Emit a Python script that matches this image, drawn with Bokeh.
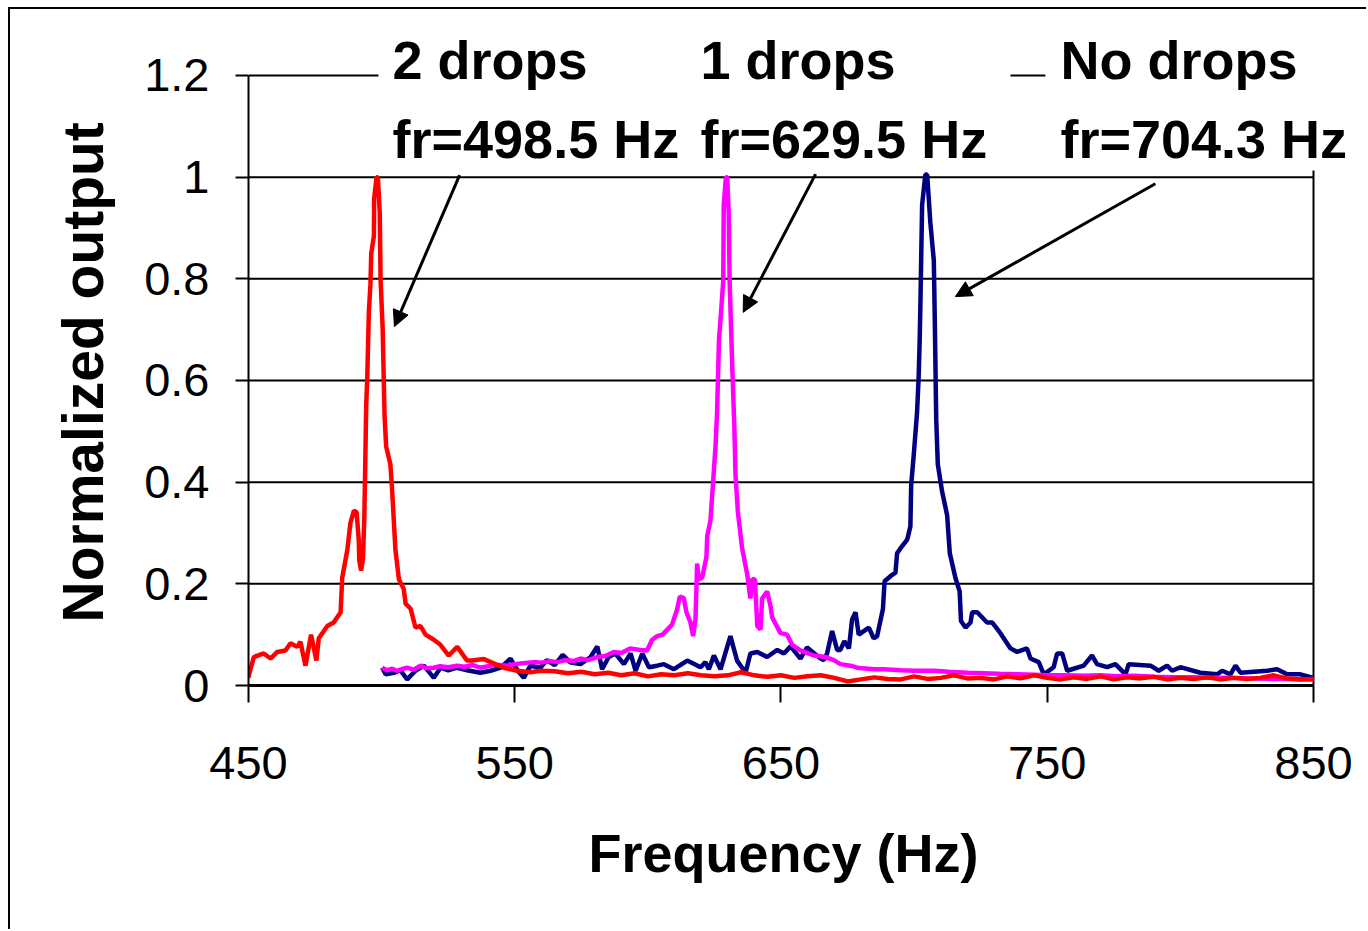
from bokeh.plotting import figure
from bokeh.models import FixedTicker, Label, Arrow, NormalHead, CustomJSTickFormatter, BoxAnnotation, Title
from bokeh.embed import file_html
from bokeh.resources import INLINE

# ---- data ----
red_f = [450.0, 450.1, 452.0, 455.7, 458.3, 460.8, 463.9, 465.8, 468.3, 469.5, 471.4, 473.5, 475.5, 476.4,
         479.6, 482.0, 484.6, 485.2, 487.1, 488.3, 489.6, 490.6, 491.4, 491.6, 492.3, 493.0, 493.5, 493.9,
         494.2, 494.6, 495.2, 495.8, 496.1, 497.1, 497.2, 498.1, 498.6, 499.3, 499.6, 500.4, 500.8, 501.1,
         501.7, 503.3, 503.9, 505.2, 506.5, 507.3, 508.3, 509.0, 510.9, 512.7, 514.6, 516.5, 519.6, 522.1,
         525.2, 528.4, 532.1, 533.9, 538.4, 545.9, 550.9, 555.9, 559.6, 565, 570, 575, 580, 585, 590, 595,
         600, 605, 610, 615, 620, 625, 630, 635, 640, 645, 650, 655, 660, 665, 670, 675, 680, 685, 690, 695,
         700, 705, 710, 715, 720, 725, 730, 735, 740, 745, 750, 755, 760, 765, 770, 775, 780, 785, 790, 795,
         800, 805, 810, 815, 820, 825, 830, 835, 840, 845, 850]
red_v = [0.015, 0.02, 0.056, 0.063, 0.053, 0.066, 0.069, 0.083, 0.076, 0.086, 0.039, 0.10, 0.049, 0.093,
         0.117, 0.124, 0.144, 0.212, 0.266, 0.32, 0.344, 0.341, 0.287, 0.246, 0.226, 0.25, 0.33, 0.45,
         0.55, 0.605, 0.734, 0.789, 0.85, 0.884, 0.958, 1.0, 1.0, 0.93, 0.80, 0.70, 0.60, 0.531,
         0.47, 0.435, 0.388, 0.266, 0.209, 0.20, 0.19, 0.161, 0.151, 0.114, 0.117, 0.10, 0.09, 0.08,
         0.059, 0.076, 0.049, 0.049, 0.052, 0.035, 0.029, 0.026, 0.029, 0.028, 0.024, 0.027, 0.022, 0.025,
         0.020, 0.024, 0.018, 0.022, 0.020, 0.024, 0.020, 0.018, 0.020, 0.026, 0.020, 0.017, 0.020, 0.015,
         0.018, 0.020, 0.015, 0.008, 0.012, 0.016, 0.013, 0.012, 0.018, 0.013, 0.015, 0.020, 0.014, 0.015,
         0.012, 0.018, 0.014, 0.020, 0.015, 0.012, 0.016, 0.013, 0.018, 0.012, 0.016, 0.014, 0.017, 0.012,
         0.015, 0.013, 0.016, 0.012, 0.015, 0.013, 0.015, 0.020, 0.014, 0.012, 0.013]

mag_f = [500.2, 502, 504, 505.8, 508, 509.6, 512, 514.6, 517, 519.6, 522, 525, 528.4, 531, 534, 537.1,
         540, 543, 547.2, 550, 553, 557.2, 560, 563, 566, 569, 572, 574.7, 577.5, 580.9, 584, 587.2, 590,
         593.5, 597, 599.7, 601.6, 603.5, 605.5, 607.3, 609.1, 611, 612, 613.5, 614.5, 616, 617, 617.9,
         618.5, 619.1, 620.4, 622, 622.3, 623.5, 624.5, 625.4, 626, 626.7, 627.5, 628.3, 628.5, 629.3,
         629.8, 630.4, 630.7, 631.7, 632.5, 632.9, 633.8, 635.4, 637.3, 638.5, 639.2, 640.2, 641.1, 642.3,
         642.9, 644.8, 646, 646.7, 649.8, 652.3, 654.2, 657.3, 662.3, 666.7, 669.8, 672.3, 676.1, 678.6,
         684.9, 688.6, 695, 700, 707.4, 713, 719.9, 726, 732, 738.7, 745, 750, 757, 763.7, 770, 776,
         782.5, 790, 797, 805, 812, 820, 828, 835, 842, 850]
mag_v = [0.035, 0.03, 0.033, 0.029, 0.033, 0.035, 0.031, 0.039, 0.034, 0.035, 0.038, 0.036, 0.039, 0.037,
         0.04, 0.035, 0.038, 0.041, 0.039, 0.042, 0.044, 0.046, 0.045, 0.048, 0.046, 0.05, 0.048, 0.053,
         0.05, 0.056, 0.058, 0.066, 0.064, 0.073, 0.07, 0.069, 0.09, 0.097, 0.1, 0.11, 0.12, 0.15, 0.175,
         0.172, 0.144, 0.124, 0.097, 0.131, 0.24, 0.209, 0.212, 0.253, 0.294, 0.324, 0.40, 0.47, 0.538,
         0.68, 0.735, 0.796, 0.945, 1.0, 1.0, 0.924, 0.796, 0.627, 0.505, 0.416, 0.342, 0.27, 0.219,
         0.171, 0.209, 0.209, 0.117, 0.11, 0.171, 0.185, 0.158, 0.134, 0.103, 0.10, 0.08, 0.069, 0.059,
         0.056, 0.05, 0.042, 0.039, 0.035, 0.032, 0.032, 0.03, 0.029, 0.029, 0.027, 0.025, 0.024, 0.023,
         0.022, 0.021, 0.02, 0.02, 0.019, 0.02, 0.018, 0.019, 0.017, 0.016, 0.016, 0.015, 0.015, 0.014,
         0.013, 0.013, 0.012]

navy_f = [500.2, 501.5, 504.6, 507, 509.6, 512.7, 515.9, 519.6, 522.1, 525, 528.4, 532.1, 537.1, 540.9,
          544.7, 548.4, 551, 553.4, 555.9, 559.7, 562, 565, 568, 571, 574.7, 578.5, 581, 582.8, 585.3,
          587.8, 591, 593.5, 595.4, 597.9, 600.4, 603.5, 606, 609.8, 614.8, 619.8, 621.6, 622.9, 624.8,
          627.3, 631, 633.5, 636.7, 638.5, 641.1, 644.8, 648.6, 651.1, 653.6, 657.3, 659.8, 664.8, 666.1,
          667.3, 669.2, 671.1, 672.3, 673.8, 675.5, 676.7, 678, 679.2, 683, 684.8, 686.1, 688.3, 688.9,
          691.1, 693, 693.6, 694.9, 697.4, 698.6, 698.9, 699.9, 701.1, 701.7, 702.1, 702.4, 703, 704.2,
          704.9, 706.1, 707.4, 707.8, 708.3, 708.9, 710.5, 712.4, 713.4, 715.5, 717.1, 717.6, 719.3, 721.2,
          721.8, 723.7, 727.4, 729.3, 732.4, 736.2, 738.7, 742.4, 743.7, 746.8, 748.7, 752.4, 753.7, 755.6,
          757.5, 759.3, 763.7, 766.8, 768.7, 772.5, 775.6, 779.4, 780.6, 788.8, 791.9, 795, 796.9, 800,
          807.5, 813.8, 815.7, 818.8, 820.7, 822.6, 832.6, 836.3, 840.1, 845.1, 850]
navy_v = [0.035, 0.022, 0.025, 0.03, 0.012, 0.029, 0.039, 0.015, 0.035, 0.03, 0.035, 0.03, 0.025, 0.029,
          0.035, 0.053, 0.03, 0.015, 0.039, 0.035, 0.05, 0.04, 0.06, 0.045, 0.042, 0.056, 0.077, 0.032, 0.056,
          0.063, 0.042, 0.063, 0.029, 0.063, 0.036, 0.039, 0.042, 0.032, 0.049, 0.036, 0.046, 0.032, 0.059,
          0.032, 0.097, 0.049, 0.025, 0.063, 0.066, 0.056, 0.07, 0.063, 0.077, 0.053, 0.075, 0.053, 0.05,
          0.063, 0.107, 0.07, 0.07, 0.087, 0.073, 0.13, 0.144, 0.10, 0.114, 0.093, 0.097, 0.151, 0.205,
          0.215, 0.222, 0.26, 0.27, 0.287, 0.313, 0.395, 0.456, 0.537, 0.606, 0.681, 0.762, 0.945, 1.005,
          1.005, 0.91, 0.836, 0.707, 0.524, 0.435, 0.382, 0.335, 0.26, 0.212, 0.185, 0.127, 0.114, 0.124,
          0.144, 0.144, 0.124, 0.124, 0.103, 0.073, 0.066, 0.073, 0.053, 0.046, 0.022, 0.036, 0.063, 0.063,
          0.029, 0.032, 0.039, 0.059, 0.042, 0.036, 0.042, 0.022, 0.042, 0.039, 0.029, 0.039, 0.029, 0.036,
          0.025, 0.022, 0.029, 0.022, 0.039, 0.025, 0.029, 0.032, 0.022, 0.022, 0.015]

x_ticks = [450, 550, 650, 750, 850]
y_ticks = [0, 0.2, 0.4, 0.6, 0.8, 1.0, 1.2]
series_names = ["2 drops", "1 drops", "No drops"]
series_freqs = ["fr=498.5 Hz", "fr=629.5 Hz", "fr=704.3 Hz"]

FONT = "Liberation Sans"

# frame is extended above/right of the axes so the annotation texts are not clipped
X_RANGE = (450, 870.66)
Y_RANGE = (0, 1.3298)

p = figure(width=1358, height=922, x_range=X_RANGE, y_range=Y_RANGE,
           output_backend="svg", toolbar_location=None,
           min_border_left=238, min_border_right=0, min_border_top=0, min_border_bottom=246)
p.margin = (7, 0, 0, 8)
p.styles = {"border-left": "2px solid black", "border-top": "2px solid black"}
p.outline_line_color = None
p.background_fill_color = "white"
p.border_fill_color = "white"
p.xgrid.visible = False
p.ygrid.visible = False

# horizontal grid lines and right border of the plot area
n = len(y_ticks)
p.segment(x0=[x_ticks[0]] * n, x1=[x_ticks[-1]] * n, y0=y_ticks, y1=y_ticks,
          line_color="black", line_width=2)
p.segment(x0=[x_ticks[-1]], x1=[x_ticks[-1]], y0=[y_ticks[0]], y1=[y_ticks[-1]],
          line_color="black", line_width=2)

p.xaxis.ticker = FixedTicker(ticks=x_ticks)
p.yaxis.ticker = FixedTicker(ticks=y_ticks)
p.xaxis.bounds = (x_ticks[0], x_ticks[-1])
p.yaxis.bounds = (y_ticks[0], y_ticks[-1])
p.yaxis.formatter = CustomJSTickFormatter(code="return String(Math.round(tick*10)/10);")

for ax in (p.xaxis[0], p.yaxis[0]):
    ax.axis_line_color = "black"
    ax.major_tick_line_color = "black"
    ax.major_tick_line_width = 2
    ax.major_tick_in = 0
    ax.minor_tick_line_color = None
    ax.major_label_text_font = FONT
    ax.major_label_text_font_size = "47px"
    ax.major_label_text_color = "black"

p.xaxis.axis_line_width = 3
p.yaxis.axis_line_width = 2
p.xaxis.major_tick_out = 17
p.yaxis.major_tick_out = 13
p.xaxis.major_label_standoff = 44
p.yaxis.major_label_standoff = 26

# axis titles (placed as titles so they can be offset from the extended frame)
p.add_layout(Title(text="Frequency (Hz)", align="left", offset=340, standoff=78,
                   text_font=FONT, text_font_size="54px", text_font_style="bold",
                   text_color="black"), "below")
p.add_layout(Title(text="Normalized output", align="left", offset=63, standoff=54,
                   text_font=FONT, text_font_size="57px", text_font_style="bold",
                   text_color="black"), "left")

p.line(navy_f, navy_v, line_color="#000080", line_width=4.5)
p.line(mag_f, mag_v, line_color="#FF00FF", line_width=4.5)
p.line(red_f, red_v, line_color="#FF0000", line_width=4.5)

# white text boxes behind the annotation blocks (they hide the top grid line)
box_left = [498.83, 614.5, 749.3]
box_right = [616.0, 736.2, 870.66]
box_top = 1.3121
box_bottom = 1.0131
for bl, br in zip(box_left, box_right):
    p.add_layout(BoxAnnotation(left=bl, right=br, bottom=box_bottom, top=box_top,
                               fill_color="white", fill_alpha=1.0, line_color=None,
                               line_alpha=0))

label_x = [498.83, 614.5, 749.7]
line1_y = 1.2295
line2_y = 1.0741
for lx, name, fr in zip(label_x, series_names, series_freqs):
    p.add_layout(Label(x=lx, y=line1_y, text=name, text_font=FONT, text_font_size="54px",
                       text_font_style="bold", text_color="black", text_baseline="alphabetic",
                       text_line_height=1.3, padding=(14, 6)))
    p.add_layout(Label(x=lx, y=line2_y, text=fr, text_font=FONT, text_font_size="54px",
                       text_font_style="bold", text_color="black", text_baseline="alphabetic",
                       text_line_height=1.0, padding=(14, 2)))

arrows = [((529.3, 1.004), (504.8, 0.706)),
          ((663.0, 1.006), (635.8, 0.734)),
          ((790.6, 0.987), (715.5, 0.765))]
for (xs, ys), (xe, ye) in arrows:
    p.add_layout(Arrow(end=NormalHead(size=16, fill_color="black", line_color="black"),
                       x_start=xs, y_start=ys, x_end=xe, y_end=ye,
                       line_color="black", line_width=3))

open("out.html", "w").write(file_html(p, INLINE))
